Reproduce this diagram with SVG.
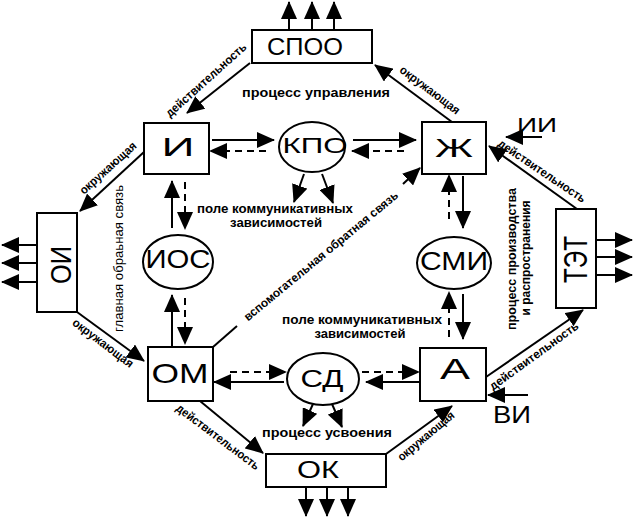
<svg xmlns="http://www.w3.org/2000/svg" width="634" height="518" viewBox="0 0 634 518">
<defs>
<marker id="ah" markerWidth="18" markerHeight="16" refX="17" refY="8" orient="auto" markerUnits="userSpaceOnUse" viewBox="0 0 18 16">
<path d="M0,0L18,8L0,16z" fill="#000"/>
</marker>
<style>
.box{fill:#fff;stroke:#000;stroke-width:2}
.ln{stroke:#000;stroke-width:2;fill:none}
.arr{marker-end:url(#ah)}
.dash{stroke-dasharray:7 5}
.big{font-family:"Liberation Sans",Arial,sans-serif;text-anchor:middle;fill:#000}
.sm{font-family:"Liberation Sans",Arial,sans-serif;font-weight:bold;font-size:12px;text-anchor:middle;fill:#000}
.rg{font-family:"Liberation Sans",Arial,sans-serif;font-size:12.5px;text-anchor:middle;fill:#000}
</style>
</defs>
<rect width="634" height="518" fill="#fff"/>

<g id="connectors">
<line class="ln arr" x1="289" y1="30" x2="289" y2="2"/>
<line class="ln arr" x1="312" y1="30" x2="312" y2="2"/>
<line class="ln arr" x1="334" y1="30" x2="334" y2="2"/>
<line class="ln arr" x1="306" y1="487" x2="306" y2="516"/>
<line class="ln arr" x1="327" y1="487" x2="327" y2="516"/>
<line class="ln arr" x1="348" y1="487" x2="348" y2="516"/>
<line class="ln arr" x1="37" y1="245" x2="2" y2="245"/>
<line class="ln arr" x1="37" y1="263" x2="2" y2="263"/>
<line class="ln arr" x1="37" y1="282" x2="2" y2="282"/>
<line class="ln arr" x1="596" y1="240" x2="632" y2="240"/>
<line class="ln arr" x1="596" y1="257" x2="632" y2="257"/>
<line class="ln arr" x1="596" y1="275" x2="632" y2="275"/>
<line class="ln arr" x1="542" y1="137" x2="506" y2="137"/>
<line class="ln arr" x1="528" y1="395" x2="488" y2="395"/>
<line class="ln arr" x1="250" y1="63" x2="187" y2="113"/>
<line class="ln arr" x1="452" y1="122" x2="375" y2="65"/>
<line class="ln arr" x1="144" y1="152" x2="80" y2="211"/>
<line class="ln arr" x1="77" y1="312" x2="144" y2="361"/>
<line class="ln arr" x1="200" y1="401" x2="263" y2="453"/>
<line class="ln arr" x1="386" y1="454" x2="452" y2="406"/>
<line class="ln arr" x1="486" y1="377" x2="583" y2="310"/>
<line class="ln arr" x1="577" y1="209" x2="489" y2="146"/>
<line class="ln" x1="213" y1="347" x2="237" y2="326"/>
<line class="ln arr" x1="403" y1="184" x2="420" y2="168"/>
<line class="ln arr" x1="212" y1="140" x2="274" y2="140"/>
<line class="ln arr dash" x1="266" y1="151" x2="210" y2="151"/>
<line class="ln arr" x1="353" y1="140" x2="416" y2="140"/>
<line class="ln arr dash" x1="404" y1="151" x2="352" y2="151"/>
<line class="ln arr" x1="304" y1="174" x2="294" y2="202"/>
<line class="ln arr" x1="322" y1="174" x2="333" y2="203"/>
<line class="ln arr" x1="172" y1="228" x2="172" y2="181"/>
<line class="ln arr dash" x1="185" y1="182" x2="185" y2="229"/>
<line class="ln arr" x1="172" y1="347" x2="172" y2="295"/>
<line class="ln arr dash" x1="185" y1="298" x2="185" y2="344"/>
<line class="ln arr dash" x1="449" y1="219" x2="449" y2="175"/>
<line class="ln arr" x1="463" y1="176" x2="463" y2="228"/>
<line class="ln arr dash" x1="449" y1="337" x2="449" y2="292"/>
<line class="ln arr" x1="463" y1="294" x2="463" y2="339"/>
<line class="ln arr dash" x1="230" y1="372" x2="286" y2="372"/>
<line class="ln arr" x1="284" y1="382" x2="214" y2="382"/>
<line class="ln arr dash" x1="362" y1="372" x2="419" y2="372"/>
<line class="ln arr" x1="419" y1="382" x2="366" y2="382"/>
<line class="ln arr" x1="313" y1="404" x2="303" y2="426"/>
<line class="ln arr" x1="332" y1="404" x2="342" y2="427"/>
</g>

<g id="node-SPOO">
<rect class="box" x="252" y="30" width="120" height="33"/>
<text class="big" x="305" y="55" font-size="24" textLength="76" lengthAdjust="spacingAndGlyphs">СПОО</text>
</g>
<g id="node-I">
<rect class="box" x="144" y="123" width="65" height="51"/>
<text class="big" x="178" y="156" font-size="25" textLength="33" lengthAdjust="spacingAndGlyphs">И</text>
</g>
<g id="node-ZH">
<rect class="box" x="422" y="122" width="64" height="52"/>
<text class="big" x="454" y="157" font-size="25" textLength="38" lengthAdjust="spacingAndGlyphs">Ж</text>
</g>
<g id="node-OI">
<rect class="box" x="37" y="213" width="40" height="99"/>
<text class="big" transform="translate(71,265) rotate(-90)" font-size="29" textLength="38" lengthAdjust="spacingAndGlyphs">ОИ</text>
</g>
<g id="node-TET">
<rect class="box" x="556" y="209" width="40" height="99"/>
<text class="big" transform="translate(587,259.5) rotate(-90)" font-size="33" textLength="47" lengthAdjust="spacingAndGlyphs">ТЭТ</text>
</g>
<g id="node-OM">
<rect class="box" x="148" y="347" width="65" height="54"/>
<text class="big" x="180" y="383" font-size="28" textLength="57" lengthAdjust="spacingAndGlyphs">ОМ</text>
</g>
<g id="node-A">
<rect class="box" x="420" y="348" width="66" height="53"/>
<text class="big" x="455" y="379" font-size="29" textLength="30" lengthAdjust="spacingAndGlyphs">А</text>
</g>
<g id="node-OK">
<rect class="box" x="266" y="454" width="120" height="33"/>
<text class="big" x="318" y="478" font-size="23" textLength="42" lengthAdjust="spacingAndGlyphs">ОК</text>
</g>
<g id="node-KPO">
<ellipse class="box" cx="312" cy="147" rx="33" ry="25"/>
<text class="big" x="315" y="153" font-size="22" textLength="65" lengthAdjust="spacingAndGlyphs">КПО</text>
</g>
<g id="node-IOS">
<ellipse class="box" cx="178" cy="262" rx="35" ry="27"/>
<text class="big" x="178" y="268" font-size="25" textLength="65" lengthAdjust="spacingAndGlyphs">ИОС</text>
</g>
<g id="node-SMI">
<ellipse class="box" cx="454" cy="263" rx="37" ry="26"/>
<text class="big" x="454" y="270" font-size="25" textLength="68" lengthAdjust="spacingAndGlyphs">СМИ</text>
</g>
<g id="node-SD">
<ellipse class="box" cx="323" cy="379" rx="36" ry="26"/>
<text class="big" x="322" y="387" font-size="23" textLength="43" lengthAdjust="spacingAndGlyphs">СД</text>
</g>
<g id="node-II">
<text class="big" x="537" y="132" font-size="21" textLength="40" lengthAdjust="spacingAndGlyphs">ИИ</text>
</g>
<g id="node-VI">
<text class="big" x="512" y="423" font-size="24" textLength="38" lengthAdjust="spacingAndGlyphs">ВИ</text>
</g>

<g id="labels">
<text class="sm" x="316" y="97" font-size="12.5" textLength="148" lengthAdjust="spacingAndGlyphs">процесс управления</text>
<text class="sm" x="275" y="213" font-size="11.5" textLength="156" lengthAdjust="spacingAndGlyphs">поле коммуникативных</text>
<text class="sm" x="276" y="227" font-size="11.5" textLength="92" lengthAdjust="spacingAndGlyphs">зависимостей</text>
<text class="sm" x="362" y="324" font-size="11.5" textLength="160" lengthAdjust="spacingAndGlyphs">поле коммуникативных</text>
<text class="sm" x="360" y="338" font-size="11.5" textLength="91" lengthAdjust="spacingAndGlyphs">зависимостей</text>
<text class="sm" x="327" y="437" font-size="12.5" textLength="130" lengthAdjust="spacingAndGlyphs">процесс усвоения</text>
<text class="sm" transform="translate(516,259) rotate(-90)" textLength="142" lengthAdjust="spacingAndGlyphs">процесс производства</text>
<text class="sm" transform="translate(530,258) rotate(-90)" textLength="115" lengthAdjust="spacingAndGlyphs">и распространения</text>
<text class="rg" transform="translate(123,258.5) rotate(-90)" textLength="147" lengthAdjust="spacingAndGlyphs">главная обраьная связь</text>
<text class="sm" transform="translate(321,256) rotate(-39.5)" y="4" textLength="196" lengthAdjust="spacingAndGlyphs">вспомогательная обратная связь</text>
<text class="sm" transform="translate(206,80) rotate(-42)" y="4" textLength="104" lengthAdjust="spacingAndGlyphs">действительность</text>
<text class="sm" transform="translate(430,90) rotate(37)" y="4" textLength="72" lengthAdjust="spacingAndGlyphs">окружающая</text>
<text class="sm" transform="translate(108,168) rotate(-42)" y="4" textLength="72" lengthAdjust="spacingAndGlyphs">окружающая</text>
<text class="sm" transform="translate(103,343) rotate(37)" y="4" textLength="73" lengthAdjust="spacingAndGlyphs">окружающая</text>
<text class="sm" transform="translate(218,437) rotate(37)" y="4" textLength="101" lengthAdjust="spacingAndGlyphs">действительность</text>
<text class="sm" transform="translate(426,436) rotate(-40)" y="4" textLength="70" lengthAdjust="spacingAndGlyphs">окружающая</text>
<text class="sm" transform="translate(534,356) rotate(-36)" y="4" textLength="107" lengthAdjust="spacingAndGlyphs">действительность</text>
<text class="sm" transform="translate(542,171) rotate(34)" y="4" textLength="103" lengthAdjust="spacingAndGlyphs">действительность</text>
</g>
</svg>
